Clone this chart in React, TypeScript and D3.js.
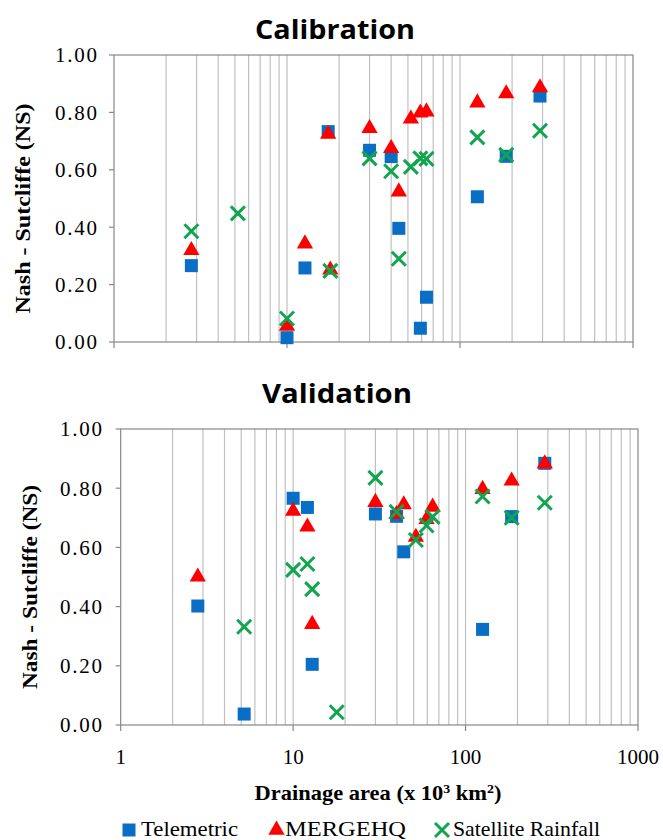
import React from "react";
import * as d3 from "d3";

// drainage area (x 10^3 km2) per basin, NS value per series (null = not plotted)
const calArea = [2.8, 5.2, 10, 12.7, 17.3, 17.8, 30, 40, 44.3, 52, 59, 64, 126, 185, 290];
const calTelemetric = [0.266, null, 0.015, 0.258, 0.733, null, 0.668, 0.646, 0.396, null, 0.048, 0.156, 0.506, 0.647, 0.857];
const calMergehq = [0.323, null, 0.059, 0.346, 0.728, 0.255, 0.748, 0.678, 0.527, 0.781, 0.802, 0.806, 0.837, 0.869, 0.89];
const calSatellite = [0.386, 0.448, 0.082, null, null, 0.248, 0.64, 0.595, 0.29, 0.61, 0.64, 0.638, 0.713, 0.652, 0.736];

const valArea = [2.8, 5.2, 10, 12.1, 12.9, 17.9, 30, 39.8, 43.8, 51.5, 59.4, 64.4, 125.5, 185, 288];
const valTelemetric = [0.402, 0.037, 0.766, 0.735, 0.205, null, 0.713, 0.705, 0.585, null, null, null, 0.323, 0.704, 0.884];
const valMergehq = [0.504, null, 0.726, 0.673, 0.344, null, 0.756, 0.715, 0.748, 0.638, 0.698, 0.74, 0.8, 0.828, 0.886];
const valSatellite = [null, 0.332, 0.524, 0.544, 0.459, 0.043, 0.835, 0.72, null, 0.625, 0.674, 0.703, 0.772, 0.7, 0.751];

const yTicks = [0, 0.2, 0.4, 0.6, 0.8, 1.0];
const xLabels = [1, 10, 100, 1000];
const seriesNames = ["Telemetric", "MERGEHQ", "Satellite Rainfall"];

const BLUE = "#0a6ec4";
const RED = "#ff0000";
const GREEN = "#12a550";
const GRID = "#c0c0c0";
const AXIS = "#888888";
const serif = { fontFamily: '"Liberation Serif", "DejaVu Serif", serif' };
const sans = { fontFamily: '"Open Sans", "Noto Sans", sans-serif' };

const triPath = d3.symbol(d3.symbolTriangle, 115)() as string;

const Square = ({ x, y }: { x: number; y: number }) => (
  <rect x={x - 6.5} y={y - 6.5} width={13} height={13} fill={BLUE} />
);
const Triangle = ({ x, y }: { x: number; y: number }) => (
  <path d={triPath} transform={`translate(${x},${y + 1})`} fill={RED} />
);
const Cross = ({ x, y }: { x: number; y: number }) => (
  <g stroke={GREEN} strokeWidth={3}>
    <line x1={x - 7} y1={y - 7} x2={x + 7} y2={y + 7} />
    <line x1={x - 7} y1={y + 7} x2={x + 7} y2={y - 7} />
  </g>
);

interface PanelProps {
  title: string;
  titleX: number;
  titleY: number;
  titleLen: number;
  left: number;
  right: number;
  top: number;
  bottom: number;
  labelRight: number;
  yTitleX: number;
  yTitleLen: number;
  showXLabels: boolean;
  area: number[];
  telemetric: (number | null)[];
  mergehq: (number | null)[];
  satellite: (number | null)[];
}

const Panel: React.FC<PanelProps> = (p) => {
  const x = d3.scaleLog().domain([1, 1000]).range([p.left, p.right]);
  const y = d3.scaleLinear().domain([0, 1]).range([p.bottom, p.top]);
  const grid = x.ticks().filter((t) => t > 1 && t < 1000);
  const fmt = d3.format(".2f");

  return (
    <g>
      <text
        x={p.titleX}
        y={p.titleY}
        textAnchor="middle"
        style={sans}
        fontWeight="bold"
        fontSize={27}
        textLength={p.titleLen}
        lengthAdjust="spacingAndGlyphs"
      >
        {p.title}
      </text>

      {grid.map((t) => (
        <line key={t} x1={x(t)} x2={x(t)} y1={p.top} y2={p.bottom} stroke={GRID} strokeWidth={1.2} />
      ))}
      <rect x={p.left} y={p.top} width={p.right - p.left} height={p.bottom - p.top} fill="none" stroke={AXIS} strokeWidth={1.2} />

      {yTicks.map((t) => (
        <g key={t}>
          <line x1={p.left - 5} x2={p.left} y1={y(t)} y2={y(t)} stroke={AXIS} strokeWidth={1.2} />
          <text
            x={p.labelRight}
            y={y(t)}
            dy="0.35em"
            textAnchor="end"
            style={serif}
            fontSize={21}
            textLength={42}
            lengthAdjust="spacing"
          >
            {fmt(t)}
          </text>
        </g>
      ))}
      {xLabels.map((t) => (
        <g key={t}>
          <line x1={x(t)} x2={x(t)} y1={p.bottom} y2={p.bottom + 6} stroke={AXIS} strokeWidth={1.2} />
          {p.showXLabels && (
            <text x={x(t)} y={p.bottom + 39} textAnchor="middle" style={serif} fontSize={21}>
              {t}
            </text>
          )}
        </g>
      ))}

      <text
        transform={`translate(${p.yTitleX},${(p.top + p.bottom) / 2 + 10}) rotate(-90)`}
        textAnchor="middle"
        style={serif}
        fontWeight="bold"
        fontSize={20}
        textLength={p.yTitleLen}
        lengthAdjust="spacingAndGlyphs"
      >
        Nash - Sutcliffe (NS)
      </text>

      {p.area.map((a, i) =>
        p.telemetric[i] == null ? null : <Square key={"t" + i} x={x(a)} y={y(p.telemetric[i] as number)} />
      )}
      {p.area.map((a, i) =>
        p.mergehq[i] == null ? null : <Triangle key={"m" + i} x={x(a)} y={y(p.mergehq[i] as number)} />
      )}
      {p.area.map((a, i) =>
        p.satellite[i] == null ? null : <Cross key={"s" + i} x={x(a)} y={y(p.satellite[i] as number)} />
      )}
    </g>
  );
};

const App: React.FC = () => {
  return (
    <svg
      width={663}
      height={840}
      style={{ position: "absolute", left: 0, top: 0, background: "#fff" }}
    >
      <Panel
        title="Calibration"
        titleX={335}
        titleY={39}
        titleLen={160}
        left={114}
        right={633}
        top={55}
        bottom={342}
        labelRight={97}
        yTitleX={30}
        yTitleLen={210}
        showXLabels={false}
        area={calArea}
        telemetric={calTelemetric}
        mergehq={calMergehq}
        satellite={calSatellite}
      />
      <Panel
        title="Validation"
        titleX={337}
        titleY={403}
        titleLen={150}
        left={120.7}
        right={638}
        top={429}
        bottom={725}
        labelRight={102}
        yTitleX={37}
        yTitleLen={204}
        showXLabels={true}
        area={valArea}
        telemetric={valTelemetric}
        mergehq={valMergehq}
        satellite={valSatellite}
      />

      <text
        x={378}
        y={800}
        textAnchor="middle"
        style={serif}
        fontWeight="bold"
        fontSize={21}
        textLength={247}
        lengthAdjust="spacingAndGlyphs"
      >
        Drainage area (x 10<tspan dy={-7} fontSize={13}>3</tspan>
        <tspan dy={7}> km</tspan>
        <tspan dy={-7} fontSize={13}>2</tspan>
        <tspan dy={7}>)</tspan>
      </text>

      <g style={serif} fontSize={21}>
        <Square x={129} y={830} />
        <text x={141} y={836} textLength={97} lengthAdjust="spacingAndGlyphs">{seriesNames[0]}</text>
        <Triangle x={276.5} y={829} />
        <text x={285} y={836} textLength={121} lengthAdjust="spacingAndGlyphs">{seriesNames[1]}</text>
        <Cross x={442} y={830} />
        <text x={453} y={836} textLength={147} lengthAdjust="spacingAndGlyphs">{seriesNames[2]}</text>
      </g>
    </svg>
  );
};

export default App;
